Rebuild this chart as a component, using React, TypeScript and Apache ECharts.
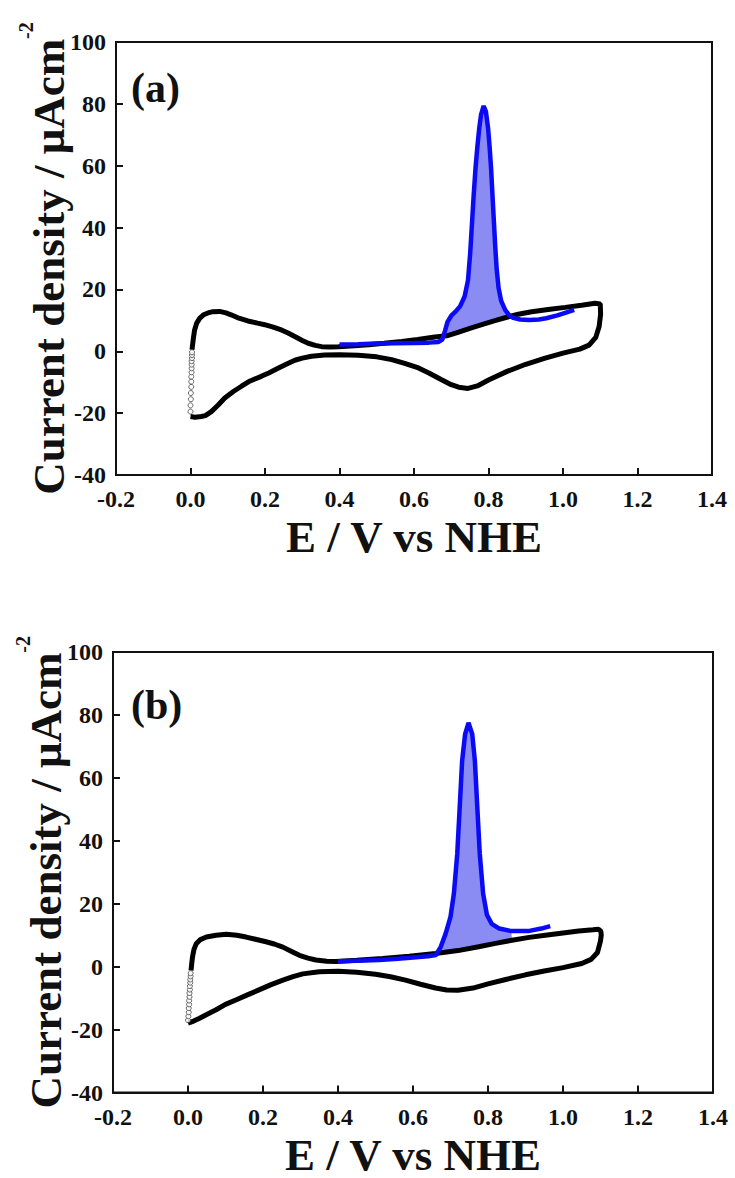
import React, { useEffect, useRef } from "react";
import * as echarts from "echarts";

type P = [number, number];

// ---------- Panel (a) ----------
const blackUpperA: P[] = [
  [0.004, 0.5], [0.007, 3.5], [0.011, 6.9], [0.017, 9.2], [0.025, 10.7], [0.035, 11.8], [0.047, 12.4],
  [0.06, 12.8], [0.078, 12.9], [0.095, 12.4], [0.109, 11.8], [0.13, 10.7], [0.154, 9.8], [0.18, 9.1],
  [0.199, 8.6], [0.22, 7.9], [0.244, 6.9], [0.262, 5.9], [0.28, 4.8], [0.3, 3.5], [0.316, 2.6],
  [0.335, 1.9], [0.352, 1.5], [0.375, 1.4], [0.397, 1.5], [0.44, 1.8], [0.478, 2.1], [0.52, 2.6],
  [0.567, 3.2], [0.61, 3.8], [0.656, 4.6], [0.688, 5.0], [0.72, 6.2], [0.75, 7.4], [0.782, 8.6],
  [0.815, 9.8], [0.849, 11.0], [0.88, 12.0], [0.916, 12.8], [0.96, 13.5], [1.006, 14.2], [1.05, 14.9],
  [1.086, 15.5], [1.1, 15.3],
];
const blackLowerA: P[] = [
  [1.101, 12], [1.097, 8], [1.088, 4.5], [1.07, 2], [1.045, 0.7], [1.0, -0.6], [0.95, -2.3], [0.9, -4.2],
  [0.85, -6.5], [0.8, -9.3], [0.77, -11.2], [0.745, -12], [0.72, -11.6], [0.7, -10.8], [0.674, -9.2],
  [0.64, -7], [0.612, -5.4], [0.575, -3.9], [0.54, -2.7], [0.5, -1.8], [0.45, -1.3], [0.4, -1.1],
  [0.36, -1.2], [0.325, -1.6], [0.3, -2.2], [0.28, -2.9], [0.257, -4.2], [0.235, -5.5], [0.21, -7],
  [0.19, -8.1], [0.16, -9.6], [0.137, -11.3], [0.115, -13], [0.092, -15.1], [0.075, -17.3],
  [0.056, -19.5], [0.04, -20.8], [0.029, -21.1], [0.012, -21.3], [0.0, -21.1],
];
const sparseA: P[] = [
  [0.0, -19.5], [0.0, -17.5], [0.001, -15.5], [0.001, -13.5], [0.002, -11.5], [0.002, -9.8],
  [0.002, -8.2], [0.003, -6.8], [0.003, -5.5], [0.003, -4.3], [0.003, -3.2], [0.004, -2.2],
  [0.004, -1.2], [0.004, -0.3],
];
const blueA: P[] = [
  [0.4, 2.2], [0.45, 2.3], [0.5, 2.5], [0.55, 2.6], [0.6, 2.7], [0.64, 2.8], [0.665, 3.0], [0.676, 3.8],
  [0.683, 6.5], [0.69, 9.5], [0.7, 11.5], [0.712, 12.9], [0.724, 14.6], [0.736, 17.8], [0.745, 23],
  [0.751, 32], [0.755, 40], [0.76, 50], [0.765, 59], [0.77, 66], [0.775, 72], [0.78, 76.5], [0.787, 79.3],
  [0.793, 77.5], [0.799, 72], [0.803, 66], [0.807, 59], [0.81, 52], [0.814, 43], [0.818, 34],
  [0.822, 26.5], [0.827, 20.5], [0.834, 16.3], [0.845, 13.3], [0.856, 11.6], [0.866, 10.8],
  [0.885, 10.3], [0.91, 10.1], [0.935, 10.3], [0.955, 10.7], [0.985, 11.6], [1.01, 12.6], [1.03, 13.4],
];
const fillRangeA: P = [0.675, 0.866];

// ---------- Panel (b) ----------
const blackUpperB: P[] = [
  [0.008, -1.2], [0.01, 1], [0.012, 3.1], [0.016, 5.5], [0.022, 7.3], [0.033, 8.6], [0.049, 9.4],
  [0.075, 10.0], [0.102, 10.3], [0.13, 10.0], [0.155, 9.4], [0.18, 8.7], [0.208, 7.9], [0.23, 7.2],
  [0.253, 6.2], [0.275, 4.9], [0.297, 3.6], [0.32, 2.7], [0.341, 2.1], [0.37, 1.7], [0.395, 1.6],
  [0.45, 2.0], [0.519, 2.6], [0.59, 3.3], [0.66, 4.2], [0.72, 5.1], [0.775, 6.3], [0.82, 7.4],
  [0.864, 8.4], [0.91, 9.3], [0.953, 10.0], [1.0, 10.7], [1.042, 11.3], [1.08, 11.7], [1.095, 11.9],
];
const blackLowerB: P[] = [
  [1.101, 11.2], [1.102, 10], [1.1, 8.2], [1.092, 4.5], [1.075, 2.3], [1.05, 1.0], [1.0, -0.3],
  [0.95, -1.4], [0.9, -2.6], [0.85, -4.0], [0.8, -5.5], [0.76, -6.8], [0.72, -7.5], [0.69, -7.4],
  [0.66, -6.8], [0.62, -5.6], [0.58, -4.3], [0.54, -3.2], [0.5, -2.4], [0.45, -1.8], [0.4, -1.5],
  [0.35, -1.6], [0.306, -2.3], [0.28, -3.2], [0.253, -4.3], [0.22, -5.8], [0.191, -7.3], [0.16, -8.9],
  [0.129, -10.5], [0.1, -12.0], [0.075, -13.7], [0.05, -15.2], [0.031, -16.4], [0.015, -17.3], [0.0, -18],
];
const sparseB: P[] = [
  [0.0, -17], [0.001, -15.8], [0.002, -14.5], [0.002, -13.2], [0.003, -12], [0.003, -10.8],
  [0.004, -9.6], [0.004, -8.4], [0.005, -7.3], [0.005, -6.2], [0.006, -5.1], [0.006, -4.1],
  [0.007, -3.1], [0.007, -2.1],
];
const blueB: P[] = [
  [0.4, 1.7], [0.45, 1.9], [0.51, 2.1], [0.56, 2.5], [0.6, 2.9], [0.64, 3.3], [0.661, 3.7], [0.674, 6.3],
  [0.687, 10.5], [0.7, 15.8], [0.709, 23.2], [0.718, 35.9], [0.725, 51.7], [0.731, 65.4], [0.739, 73.9],
  [0.748, 77.5], [0.758, 73.9], [0.765, 65.4], [0.771, 51.7], [0.778, 35.9], [0.787, 23.2], [0.797, 16.5],
  [0.81, 13.6], [0.83, 12.1], [0.862, 11.3], [0.907, 11.3], [0.942, 12.1], [0.966, 12.9],
];
const fillRangeB: P = [0.66, 0.864];

// ---------- Axes ----------
const xMin = -0.2, xMax = 1.4, xStep = 0.2;
const yMin = -40, yMax = 100, yStep = 20;
const xTitle = "E / V vs NHE";
const yTitleMain = "Current density / μAcm";
const yTitleSup = "-2";
const panelLabels = ["(a)", "(b)"];

const FONT = '"Liberation Serif", "Times New Roman", serif';

function fillPoly(blue: P[], black: P[], r: P): P[] {
  const top = blue.filter((p) => p[0] >= r[0] && p[0] <= r[1]);
  const bottom = black.filter((p) => p[0] >= r[0] && p[0] <= r[1]).reverse();
  return [...top, ...bottom];
}

function axes(i: number) {
  const x = {
    type: "value",
    gridIndex: i,
    min: xMin,
    max: xMax,
    interval: xStep,
    name: xTitle,
    nameLocation: "middle",
    nameGap: 40,
    nameMoveOverlap: false,
    nameTextStyle: { fontFamily: FONT, fontWeight: "bold", fontSize: 45, color: "#111", lineHeight: 44 },
    axisLine: { show: true, onZero: false, lineStyle: { color: "#111", width: 2 } },
    axisTick: { show: true, inside: true, length: 7, lineStyle: { color: "#111", width: 2 } },
    axisLabel: {
      margin: 12,
      fontFamily: FONT,
      fontWeight: "bold",
      fontSize: 24,
      lineHeight: 24,
      color: "#111",
      formatter: (v: number) => v.toFixed(1),
    },
    splitLine: { show: false },
  };
  const y = {
    type: "value",
    gridIndex: i,
    min: yMin,
    max: yMax,
    interval: yStep,
    name: `{m|${yTitleMain}}{s|${yTitleSup}}`,
    nameLocation: "middle",
    nameRotate: 90,
    nameGap: 34,
    nameMoveOverlap: false,
    nameTextStyle: {
      rich: {
        m: { fontFamily: FONT, fontWeight: "bold", fontSize: 45, color: "#111", lineHeight: 66 },
        s: { fontFamily: FONT, fontWeight: "bold", fontSize: 20, color: "#111", verticalAlign: "top", lineHeight: 22 },
      },
    },
    axisLine: { show: true, onZero: false, lineStyle: { color: "#111", width: 2 } },
    axisTick: { show: true, inside: true, length: 7, lineStyle: { color: "#111", width: 2 } },
    axisLabel: { margin: 10, fontFamily: FONT, fontWeight: "bold", fontSize: 24, color: "#111" },
    splitLine: { show: false },
  };
  return { x, y };
}

function panelSeries(i: number, up: P[], low: P[], sparse: P[], blue: P[], range: P) {
  const poly = fillPoly(blue, up, range);
  return [
    {
      type: "custom",
      xAxisIndex: i,
      yAxisIndex: i,
      z: 1,
      data: [poly[0]],
      renderItem: (_p: any, api: any) => ({
        type: "polygon",
        shape: { points: poly.map((pt) => api.coord(pt)) },
        style: { fill: "#8a8cf4", stroke: "none" },
      }),
      silent: true,
    },
    {
      type: "line",
      xAxisIndex: i,
      yAxisIndex: i,
      z: 2,
      data: [...up, ...low],
      showSymbol: false,
      symbol: "none",
      lineStyle: { color: "#000", width: 5 },
      silent: true,
    },
    {
      type: "scatter",
      xAxisIndex: i,
      yAxisIndex: i,
      z: 2,
      data: sparse,
      symbol: "circle",
      symbolSize: 5,
      itemStyle: { color: "#fff", borderColor: "#444", borderWidth: 1 },
      silent: true,
    },
    {
      type: "line",
      xAxisIndex: i,
      yAxisIndex: i,
      z: 3,
      data: blue,
      showSymbol: false,
      symbol: "none",
      lineStyle: { color: "#0a0af5", width: 4.5 },
      silent: true,
    },
  ];
}

export default function App() {
  const ref = useRef<HTMLDivElement>(null);
  useEffect(() => {
    if (!ref.current) return;
    const chart = echarts.init(ref.current, undefined, { renderer: "svg" });
    const a = axes(0);
    const b = axes(1);
    chart.setOption({
      animation: false,
      backgroundColor: "#fff",
      grid: [
        { left: 116, top: 42, width: 596, height: 433, show: true, borderColor: "#111", borderWidth: 2 },
        { left: 113, top: 652, width: 600, height: 442, show: true, borderColor: "#111", borderWidth: 2 },
      ],
      xAxis: [a.x, b.x],
      yAxis: [a.y, b.y],
      series: [
        ...panelSeries(0, blackUpperA, blackLowerA, sparseA, blueA, fillRangeA),
        ...panelSeries(1, blackUpperB, blackLowerB, sparseB, blueB, fillRangeB),
      ],
      graphic: [
        {
          type: "text",
          left: 131,
          top: 67,
          style: { text: panelLabels[0], fontFamily: FONT, fontWeight: "bold", fontSize: 42, fill: "#111" },
        },
        {
          type: "text",
          left: 131,
          top: 684,
          style: { text: panelLabels[1], fontFamily: FONT, fontWeight: "bold", fontSize: 42, fill: "#111" },
        },
      ],
    });
    return () => chart.dispose();
  }, []);
  return (
    <div
      ref={ref}
      style={{ position: "absolute", left: 0, top: 0, width: 735, height: 1178, background: "#fff" }}
    />
  );
}
